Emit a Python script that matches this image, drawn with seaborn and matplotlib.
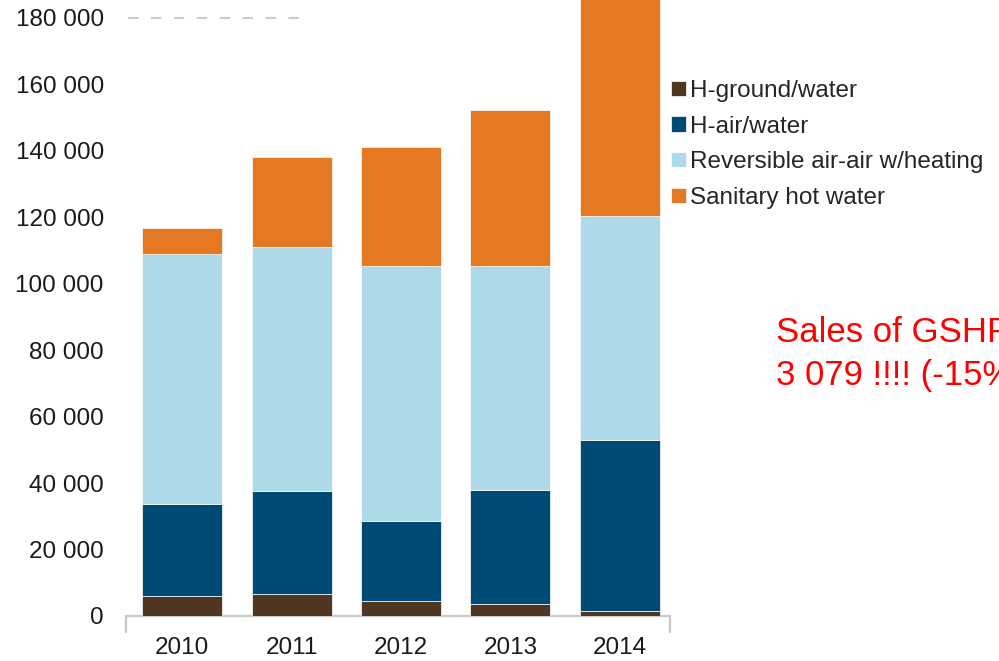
import matplotlib

matplotlib.use("Agg")

import matplotlib.pyplot as plt  # noqa: E402
import numpy as np  # noqa: E402
import pandas as pd  # noqa: E402
import seaborn as sns  # noqa: E402
from matplotlib.patches import Patch  # noqa: E402
from matplotlib.ticker import FuncFormatter  # noqa: E402

# values (units)
years = ["2010", "2011", "2012", "2013", "2014"]
ground_water = [5900, 6700, 4500, 3700, 1600]
air_water = [27900, 30800, 24200, 34300, 51200]
reversible_air_air = [75200, 73500, 76500, 67200, 67500]
sanitary_hot_water = [7600, 27100, 35800, 47000, 70000]

series_names = ["H-ground/water", "H-air/water",
                "Reversible air-air w/heating", "Sanitary hot water"]
colors = ["#4e3620", "#004b76", "#add9e8", "#e47823"]
yticks = list(range(0, 180001, 20000))

sns.set_theme(style="white")
plt.rcParams["font.family"] = ["Liberation Sans", "DejaVu Sans"]

df = pd.DataFrame({
    "year": years,
    series_names[0]: ground_water,
    series_names[1]: air_water,
    series_names[2]: reversible_air_air,
    series_names[3]: sanitary_hot_water,
})

fig = plt.figure(figsize=(9.99, 6.61), dpi=100)
ax = fig.add_axes([0.1261, 0.0681, 0.5446, 0.9319])

bottom = np.zeros(len(years))
for name, color in zip(series_names, colors):
    sns.barplot(data=df, x="year", y=name, order=years, color=color,
                width=0.73, bottom=bottom, edgecolor="white", linewidth=0.5,
                saturation=1, ax=ax)
    bottom = bottom + df[name].to_numpy()

ax.set_xlim(-0.515, 4.46)
ax.set_ylim(0, 185300)
ax.set_yticks(yticks)
ax.yaxis.set_major_formatter(FuncFormatter(lambda v, _: f"{v:,.0f}".replace(",", " ")))
ax.set_xlabel("")
ax.set_ylabel("")
ax.tick_params(axis="y", length=0, pad=16, labelsize=17.5, labelcolor="#1a1a1a")
ax.tick_params(axis="x", length=0, pad=15, labelsize=17.5, labelcolor="#1a1a1a")

for side in ["top", "right", "left", "bottom"]:
    ax.spines[side].set_visible(False)

# light grey baseline with small end ticks
ax.plot([0, 0, 1, 1], [-0.026, 0, 0, -0.026], transform=ax.transAxes,
        color="#c8c8c8", linewidth=1.6, clip_on=False, zorder=0)

# partial dashed line at the top tick
ax.axhline(180000, xmin=0.003, xmax=0.329, color="#cccccc", linewidth=1.5,
           dashes=(5, 6), zorder=0)

handles = [Patch(facecolor=c, edgecolor="white", linewidth=0.5) for c in colors]
fig.legend(handles, series_names, loc="upper left",
           bbox_to_anchor=(0.6717, 0.879), frameon=False, fontsize=17.5,
           handlelength=0.6, handleheight=0.6, handletextpad=0.2,
           labelspacing=0.56, borderpad=0, borderaxespad=0)

fig.text(0.777, 1 - 341.7 / 661, "Sales of GSHP", color="red", fontsize=25,
         va="baseline", ha="left")
fig.text(0.777, 1 - 385 / 661, "3 079 !!!! (-15%)", color="red", fontsize=25,
         va="baseline", ha="left")

fig.savefig("out.png", dpi=100)
